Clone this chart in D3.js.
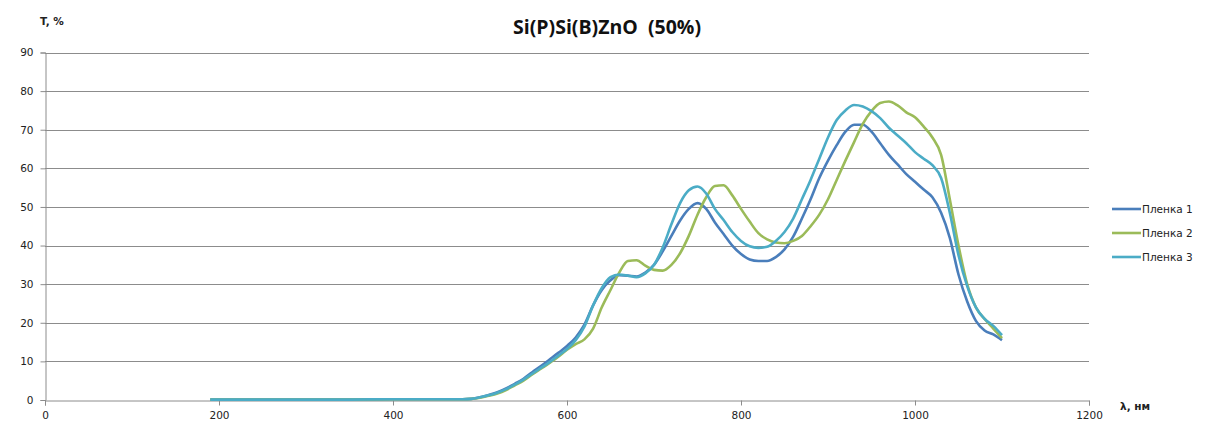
<!DOCTYPE html>
<html><head><meta charset="utf-8">
<script src="https://cdn.jsdelivr.net/npm/d3@7"></script>
<style>body{margin:0;background:#fff;} svg{display:block;}</style>
</head><body>
<svg id="c" width="1205" height="425"></svg>
<script>
const title = "Si(P)Si(B)ZnO  (50%)";
const seriesNames = ["Пленка 1", "Пленка 2", "Пленка 3"];
const xTicks = [0, 200, 400, 600, 800, 1000, 1200];
const yTicks = [0, 10, 20, 30, 40, 50, 60, 70, 80, 90];
const wavelengths = [190,200,250,300,350,400,450,480,490,500,510,520,530,540,550,560,570,580,590,600,610,620,630,640,650,660,670,680,690,700,710,720,730,740,750,760,770,780,790,800,810,820,830,840,850,860,870,880,890,900,910,920,930,940,950,960,970,980,990,1000,1010,1020,1030,1040,1050,1060,1070,1080,1090,1100];
const film1 = [0.1,0.1,0.1,0.1,0.1,0.2,0.2,0.2,0.3,0.7,1.3,2.0,3.0,4.2,5.5,7.2,8.8,10.5,12.2,14.0,16.2,19.5,24.5,28.5,31.0,32.3,32.2,32.0,33.0,35.0,38.5,42.5,46.5,49.5,51.0,49.5,46.0,43.0,40.0,37.8,36.4,36.0,36.0,37.0,39.0,42.3,47.0,52.0,57.5,62.0,66.0,69.5,71.3,71.3,69.5,66.5,63.5,61.0,58.5,56.5,54.5,52.5,48.5,42.0,32.5,25.5,20.5,18.0,17.0,15.5];
const film2 = [0.1,0.1,0.1,0.1,0.1,0.2,0.2,0.2,0.3,0.6,1.1,1.7,2.6,3.8,5.0,6.6,8.1,9.6,11.2,13.0,14.5,15.7,18.5,24.0,28.5,33.0,36.0,36.2,34.8,33.7,33.5,35.0,38.0,42.5,48.0,52.5,55.4,55.6,53.0,49.5,46.2,43.2,41.6,40.8,40.6,41.2,42.5,45.0,48.0,52.0,57.0,62.0,66.8,71.5,74.8,76.9,77.3,76.3,74.5,73.2,70.8,68.0,63.5,52.0,40.0,30.0,24.0,21.0,18.5,16.0];
const film3 = [0.1,0.1,0.1,0.1,0.1,0.2,0.2,0.2,0.3,0.7,1.2,1.9,2.8,4.0,5.3,6.8,8.3,9.8,11.5,13.2,15.5,19.0,24.5,29.0,31.8,32.5,32.2,31.8,32.8,35.0,39.5,45.5,51.0,54.3,55.3,53.5,49.5,46.6,43.5,41.2,39.8,39.4,39.7,41.2,43.5,47.0,52.0,57.0,62.5,68.0,72.5,75.0,76.4,76.0,74.8,73.0,70.5,68.5,66.5,64.2,62.5,60.8,57.5,48.5,37.5,29.5,24.0,21.0,19.2,16.8];
const colors = ["#4A7EBB", "#9BBB59", "#4BACC6"];

const svg = d3.select("#c");
const x = d3.scaleLinear().domain([0, 1200]).range([45, 1089]);
const y = d3.scaleLinear().domain([0, 90]).range([400, 52.5]);
const font = "'DejaVu Sans', Verdana, sans-serif";

// gridlines
svg.append("g").selectAll("line").data(yTicks.slice(1)).join("line")
  .attr("x1", x(0)).attr("x2", x(1200))
  .attr("y1", d => Math.round(y(d)) + 0.5).attr("y2", d => Math.round(y(d)) + 0.5)
  .attr("stroke", "#8c8c8c").attr("stroke-width", 1);

// y axis
const yAxis = svg.append("g").attr("transform", `translate(${x(0)+0.5},0)`)
  .call(d3.axisLeft(y).tickValues(yTicks).tickSize(5).tickPadding(7).tickFormat(d3.format("d")));
yAxis.select(".domain").attr("stroke", "#8c8c8c");
yAxis.selectAll(".tick line").attr("stroke", "#8c8c8c");
yAxis.selectAll("text").attr("font-family", font).attr("font-size", "10.5px").attr("fill", "#222");

// x axis
const xAxis = svg.append("g").attr("transform", `translate(0,${Math.round(y(0))+0.5})`)
  .call(d3.axisBottom(x).tickValues(xTicks).tickSize(5).tickPadding(6).tickFormat(d3.format("d")));
xAxis.select(".domain").attr("stroke", "#8c8c8c");
xAxis.selectAll(".tick line").attr("stroke", "#8c8c8c");
xAxis.selectAll("text").attr("font-family", font).attr("font-size", "10.5px").attr("fill", "#222");

// lines
const series = [film1, film2, film3];
const line = d3.line().x((d, i) => x(wavelengths[i])).y(d => y(d)).curve(d3.curveMonotoneX);
series.forEach((s, k) => {
  svg.append("path").datum(s).attr("d", line).attr("fill", "none")
    .attr("stroke", colors[k]).attr("stroke-width", 2.6).attr("stroke-linejoin", "round");
});

// title
svg.append("text").attr("x", 607).attr("y", 34).attr("text-anchor", "middle")
  .style("white-space", "pre").attr("xml:space", "preserve")
  .attr("font-family", "'Open Sans', 'Noto Sans', sans-serif").attr("font-weight", "bold")
  .attr("font-size", "19.5px").attr("fill", "#111").text(title);

// axis titles
svg.append("text").attr("x", 40).attr("y", 25).attr("font-family", font).attr("font-weight", "bold")
  .attr("font-size", "10.5px").attr("fill", "#222").text("T, %");
svg.append("text").attr("x", 1120).attr("y", 410).attr("font-family", font).attr("font-weight", "bold")
  .attr("font-size", "10.5px").attr("fill", "#222").text("λ, нм");

// legend
const legY = [209, 233, 257];
seriesNames.forEach((n, k) => {
  svg.append("line").attr("x1", 1112).attr("x2", 1141).attr("y1", legY[k]).attr("y2", legY[k])
    .attr("stroke", colors[k]).attr("stroke-width", 2.6);
  svg.append("text").attr("x", 1142).attr("y", legY[k] + 4).attr("font-family", font)
    .attr("font-size", "10.5px").attr("fill", "#222").text(n);
});
</script>
</body></html>
